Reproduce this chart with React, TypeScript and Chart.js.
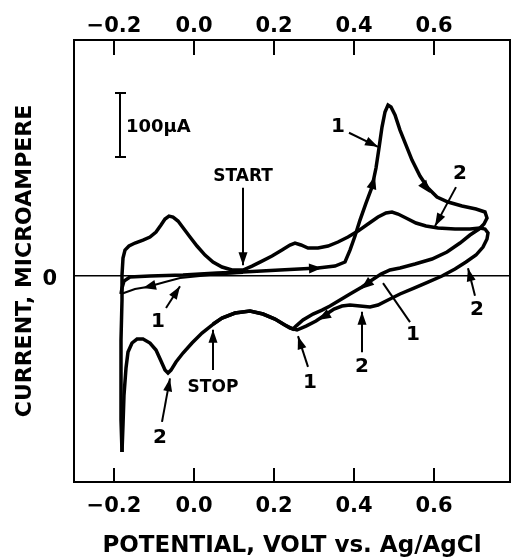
import { useEffect, useRef } from "react";
import { Chart, registerables } from "chart.js";

Chart.register(...registerables);

// Axis ranges and ticks
const potentialMin = -0.3;
const potentialMax = 0.79;
const currentMin = -322;
const currentMax = 369;
const potentialTicks = [-0.2, 0.0, 0.2, 0.4, 0.6];
const currentTicks = [0];

// Initial (thin) negative sweep from START
const initialPotential = [0.1225, 0.04, -0.035, -0.0725, -0.1175, -0.1475, -0.1825];
const initialCurrent = [4.7, 1.6, -3.1, -9.4, -17.2, -20.3, -28.1];

// Cycle 1: forward sweep, reverse sweep, down to the cathodic spike
const cycle1Potential = [
  -0.1825, -0.18, -0.175, -0.16, -0.11, -0.0275, 0.0575, 0.1225, 0.215, 0.31, 0.3525, 0.3775,
  0.39, 0.4025, 0.415, 0.43, 0.445, 0.455, 0.4625, 0.47, 0.4775, 0.485, 0.4925, 0.5025,
  0.515, 0.53, 0.545, 0.565, 0.585, 0.6075, 0.635, 0.67, 0.705, 0.7275, 0.7325, 0.725,
  0.7125, 0.69, 0.665, 0.6325, 0.595, 0.5525, 0.515, 0.49, 0.4675, 0.445, 0.42, 0.39,
  0.365, 0.34, 0.32, 0.2975, 0.2725, 0.255, 0.2475, 0.2275, 0.2025, 0.1725, 0.14, 0.1025,
  0.07, 0.045, 0.02, -0.005, -0.0275, -0.045, -0.0575, -0.065, -0.0725, -0.0825, -0.095,
  -0.11, -0.1275, -0.1425, -0.155, -0.165, -0.17, -0.175, -0.1775, -0.18,
];
const cycle1Current = [
  -28.1, -18.8, -7.8, -1.6, 0, 1.6, 4.7, 6.3, 9.4, 12.5, 15.6, 21.9,
  40.6, 62.5, 87.5, 114.1, 139.1, 168.8, 200.1, 232.9, 256.4, 267.3, 264.2, 251.7,
  228.2, 204.8, 181.3, 156.3, 137.6, 123.5, 115.7, 109.4, 104.7, 100.1, 90.7, 81.3,
  73.5, 64.1, 51.6, 37.5, 26.6, 18.8, 12.5, 9.4, 3.1, -6.3, -17.2, -28.1,
  -37.5, -46.9, -53.2, -59.4, -68.8, -78.2, -82.9, -76.6, -67.2, -59.4, -54.7, -57.8,
  -65.7, -76.6, -89.1, -104.7, -120.4, -134.4, -147.0, -151.6, -147.0, -132.9, -115.7,
  -104.7, -98.5, -98.5, -104.7, -118.8, -143.8, -186.0, -232.9, -275.1,
];

// Cycle 2: forward sweep from the spike, reverse sweep to STOP
const cycle2Potential = [
  -0.18, -0.1825, -0.1825, -0.1825, -0.18, -0.18, -0.1775, -0.1725, -0.1625, -0.1475, -0.1275,
  -0.11, -0.095, -0.0825, -0.0725, -0.0625, -0.0525, -0.04, -0.025, -0.01, 0.0075, 0.0275,
  0.0475, 0.07, 0.095, 0.1225, 0.145, 0.17, 0.195, 0.22, 0.24, 0.2525, 0.2675, 0.285, 0.31,
  0.335, 0.36, 0.385, 0.41, 0.435, 0.46, 0.48, 0.495, 0.51, 0.53, 0.555, 0.58, 0.61, 0.6525,
  0.69, 0.715, 0.7275, 0.735, 0.7325, 0.7225, 0.705, 0.68, 0.6525, 0.62, 0.585, 0.55, 0.515,
  0.485, 0.46, 0.44, 0.415, 0.39, 0.37, 0.35, 0.3275, 0.305, 0.28, 0.2575, 0.24, 0.2225,
  0.2025, 0.1725, 0.14, 0.1025, 0.07, 0.0475,
];
const cycle2Current = [
  -275.1, -225.1, -162.6, -100.1, -37.5, 1.6, 28.1, 40.6, 46.9, 51.6, 56.3,
  61.0, 68.8, 79.7, 89.1, 93.8, 92.2, 86.0, 73.5, 61.0, 46.9, 32.8,
  21.9, 14.1, 9.4, 9.4, 15.6, 23.4, 31.3, 40.6, 48.5, 51.6, 48.5, 43.8, 43.8,
  46.9, 53.2, 61.0, 70.3, 81.3, 92.2, 98.5, 100.1, 96.9, 90.7, 82.9, 78.2, 75.0, 73.5,
  73.5, 75.0, 73.5, 67.2, 57.8, 45.3, 32.8, 21.9, 10.9, 0, -9.4, -18.8, -28.1,
  -37.5, -45.3, -48.5, -46.9, -45.3, -46.9, -51.6, -61.0, -70.3, -78.2, -84.4, -81.3, -75.0,
  -67.2, -59.4, -54.7, -57.8, -65.7, -75.0,
];

// Annotations (labels with pointer arrows)
const noteText = ["START", "1", "2", "1", "2", "STOP", "1", "2", "1", "2"];
const notePotential = [0.1225, 0.36, 0.665, -0.09, -0.085, 0.0475, 0.29, 0.42, 0.5475, 0.7075];
const noteCurrent = [156, 233, 160, -72, -253, -175, -167, -142, -92, -53];
const arrowFromPotential = [0.1225, 0.3875, 0.655, -0.07, -0.08, 0.0475, 0.285, 0.42, 0.54, 0.7025];
const arrowFromCurrent = [138, 224, 139, -50, -228, -147, -142, -119, -72, -31];
const arrowToPotential = [0.1225, 0.46, 0.6025, -0.035, -0.06, 0.0475, 0.26, 0.42, 0.4725, 0.685];
const arrowToCurrent = [17, 202, 78, -16, -160, -84, -94, -56, -11, 12];
const arrowHasHead = [true, true, true, true, true, true, true, true, false, true];

// Direction arrowheads on the voltammogram
const headTipPotential = [0.32, 0.4525, 0.59, 0.4175, 0.31, -0.1275];
const headTipCurrent = [12.5, 156.3, 129.7, -20.3, -68.8, -18.8];
const headBasePotential = [0.29, 0.4425, 0.5675, 0.4425, 0.34, -0.0975];
const headBaseCurrent = [11.7, 134.4, 148.5, -7.8, -57.8, -14.1];

// Scale bar
const scaleBarPotential = -0.185;
const scaleBarBottom = 186;
const scaleBarSpan = 100;
const scaleBarLabel = "100\u00b5A";

const FONT = "'DejaVu Sans', 'Liberation Sans', sans-serif";

const fmtTick = (v: number) => (v < 0 ? "\u2212" + Math.abs(v).toFixed(1) : v.toFixed(1));

function drawHead(ctx: CanvasRenderingContext2D, tx: number, ty: number, bx: number, by: number, len: number, half: number) {
  const dx = tx - bx;
  const dy = ty - by;
  const d = Math.hypot(dx, dy) || 1;
  const ux = dx / d;
  const uy = dy / d;
  const cx = tx - ux * len;
  const cy = ty - uy * len;
  ctx.beginPath();
  ctx.moveTo(tx, ty);
  ctx.lineTo(cx - uy * half, cy + ux * half);
  ctx.lineTo(cx + uy * half, cy - ux * half);
  ctx.closePath();
  ctx.fill();
}

const overlayPlugin = {
  id: "overlay",
  beforeDraw(chart: any) {
    const ctx = chart.ctx;
    ctx.save();
    ctx.fillStyle = "#fff";
    ctx.fillRect(0, 0, chart.width, chart.height);
    ctx.restore();
  },
  afterDatasetsDraw(chart: any) {
    const ctx: CanvasRenderingContext2D = chart.ctx;
    const xs = chart.scales.x;
    const ys = chart.scales.y;
    const { top, bottom } = chart.chartArea;
    const px = (v: number) => xs.getPixelForValue(v);
    const py = (v: number) => ys.getPixelForValue(v);
    ctx.save();
    ctx.strokeStyle = "#000";
    ctx.fillStyle = "#000";
    ctx.lineCap = "butt";

    // inward ticks on top and bottom axes
    ctx.lineWidth = 2;
    for (const v of potentialTicks) {
      const x = px(v);
      ctx.beginPath();
      ctx.moveTo(x, top);
      ctx.lineTo(x, top + 15);
      ctx.moveTo(x, bottom);
      ctx.lineTo(x, bottom - 14);
      ctx.stroke();
    }

    // scale bar
    const sbx = px(scaleBarPotential);
    const sb1 = py(scaleBarBottom);
    const sb2 = py(scaleBarBottom + scaleBarSpan);
    ctx.lineWidth = 2;
    ctx.beginPath();
    ctx.moveTo(sbx, sb1);
    ctx.lineTo(sbx, sb2);
    ctx.moveTo(sbx - 5, sb1);
    ctx.lineTo(sbx + 6, sb1);
    ctx.moveTo(sbx - 5, sb2);
    ctx.lineTo(sbx + 6, sb2);
    ctx.stroke();
    ctx.font = `bold 18px ${FONT}`;
    ctx.textAlign = "left";
    ctx.textBaseline = "middle";
    ctx.fillText(scaleBarLabel, sbx + 6, (sb1 + sb2) / 2 + 2);

    // annotation arrows and labels
    for (let i = 0; i < noteText.length; i++) {
      const fx = px(arrowFromPotential[i]);
      const fy = py(arrowFromCurrent[i]);
      const tx = px(arrowToPotential[i]);
      const ty = py(arrowToCurrent[i]);
      ctx.lineWidth = 2;
      ctx.beginPath();
      ctx.moveTo(fx, fy);
      ctx.lineTo(tx, ty);
      ctx.stroke();
      if (arrowHasHead[i]) drawHead(ctx, tx, ty, fx, fy, 13, 4.5);
      const isWord = noteText[i].length > 1;
      ctx.font = isWord ? `bold 17px ${FONT}` : `bold 20px ${FONT}`;
      ctx.textAlign = "center";
      ctx.textBaseline = "middle";
      ctx.fillText(noteText[i], px(notePotential[i]), py(noteCurrent[i]));
    }

    // direction arrowheads on the curve
    for (let i = 0; i < headTipPotential.length; i++) {
      drawHead(
        ctx,
        px(headTipPotential[i]),
        py(headTipCurrent[i]),
        px(headBasePotential[i]),
        py(headBaseCurrent[i]),
        13,
        5
      );
    }
    ctx.restore();
  },
};

const toPoints = (xs: number[], ys: number[]) => xs.map((x, i) => ({ x, y: ys[i] }));

export default function App() {
  const canvasRef = useRef<HTMLCanvasElement | null>(null);

  useEffect(() => {
    const canvas = canvasRef.current;
    if (!canvas) return;
    const tickFont = { family: FONT, size: 21, weight: "bold" as const };
    const chart = new Chart(canvas, {
      type: "scatter",
      data: {
        datasets: [
          {
            label: "initial",
            data: toPoints(initialPotential, initialCurrent),
            showLine: true,
            borderColor: "#000",
            borderWidth: 2,
            pointRadius: 0,
            tension: 0,
          },
          {
            label: "cycle 1",
            data: toPoints(cycle1Potential, cycle1Current),
            showLine: true,
            borderColor: "#000",
            borderWidth: 3.5,
            pointRadius: 0,
            tension: 0,
          },
          {
            label: "cycle 2",
            data: toPoints(cycle2Potential, cycle2Current),
            showLine: true,
            borderColor: "#000",
            borderWidth: 3.5,
            pointRadius: 0,
            tension: 0,
          },
        ],
      },
      options: {
        animation: false,
        responsive: false,
        devicePixelRatio: 1,
        layout: { padding: 0 },
        plugins: {
          legend: { display: false },
          tooltip: { enabled: false },
        },
        scales: {
          x: {
            type: "linear",
            position: "bottom",
            min: potentialMin,
            max: potentialMax,
            afterBuildTicks: (s: any) => {
              s.ticks = potentialTicks.map((v) => ({ value: v }));
            },
            afterFit: (s: any) => {
              s.height = 78;
            },
            grid: { display: false },
            border: { display: true, color: "#000", width: 2 },
            ticks: {
              color: "#000",
              font: tickFont,
              padding: 4,
              maxRotation: 0,
              autoSkip: false,
              callback: (v: any) => fmtTick(Number(v)),
            },
            title: {
              display: true,
              text: "POTENTIAL, VOLT vs. Ag/AgCl",
              color: "#000",
              font: { family: FONT, size: 23, weight: "bold" },
              padding: { top: 0, bottom: 0 },
            },
          },
          x2: {
            type: "linear",
            axis: "x",
            position: "top",
            min: potentialMin,
            max: potentialMax,
            afterBuildTicks: (s: any) => {
              s.ticks = potentialTicks.map((v) => ({ value: v }));
            },
            afterFit: (s: any) => {
              s.height = 40;
            },
            grid: { display: false },
            border: { display: true, color: "#000", width: 2 },
            ticks: {
              color: "#000",
              font: tickFont,
              padding: -7,
              maxRotation: 0,
              autoSkip: false,
              callback: (v: any) => fmtTick(Number(v)),
            },
          },
          y: {
            type: "linear",
            position: "left",
            min: currentMin,
            max: currentMax,
            afterBuildTicks: (s: any) => {
              s.ticks = currentTicks.map((v) => ({ value: v }));
            },
            afterFit: (s: any) => {
              s.width = 74;
            },
            grid: { display: true, drawOnChartArea: true, drawTicks: false, color: "#000", lineWidth: 1.5 },
            border: { display: true, color: "#000", width: 2 },
            ticks: {
              color: "#000",
              font: tickFont,
              padding: 17,
              labelOffset: 4,
              callback: (v: any) => String(v),
            },
            title: {
              display: true,
              text: "CURRENT, MICROAMPERE",
              color: "#000",
              font: { family: FONT, size: 22, weight: "bold" },
              padding: { top: 12, bottom: 0 },
            },
          },
          y2: {
            type: "linear",
            axis: "y",
            position: "right",
            min: currentMin,
            max: currentMax,
            afterFit: (s: any) => {
              s.width = 2;
            },
            grid: { display: false },
            border: { display: true, color: "#000", width: 2 },
            ticks: { display: false },
          },
        },
      },
      plugins: [overlayPlugin],
    });
    return () => chart.destroy();
  }, []);

  return (
    <div style={{ position: "fixed", left: 0, top: 0, width: 512, height: 560, background: "#fff" }}>
      <canvas ref={canvasRef} width={512} height={560} style={{ display: "block" }} />
    </div>
  );
}
